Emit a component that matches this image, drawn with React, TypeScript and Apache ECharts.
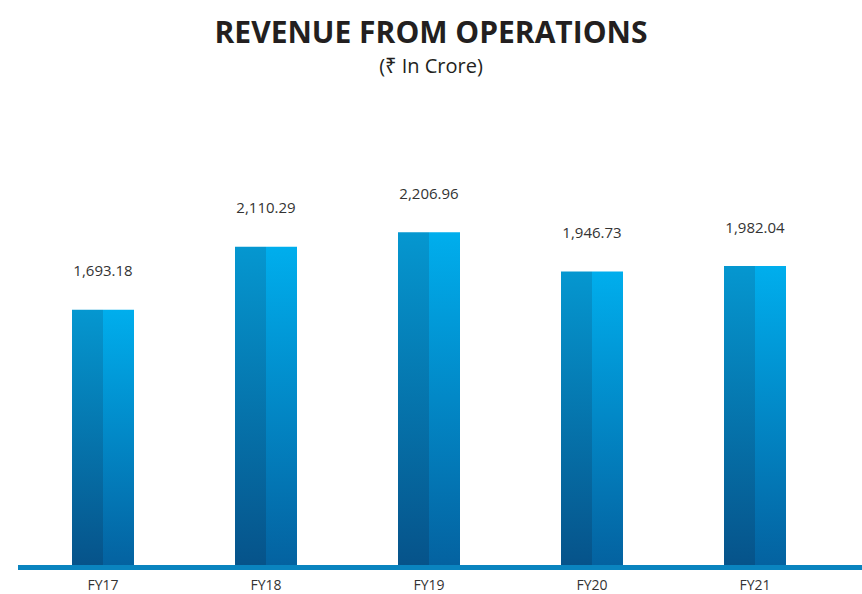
import React, { useEffect, useRef } from "react";
import * as echarts from "echarts";

const categories = ["FY17", "FY18", "FY19", "FY20", "FY21"];
const revenue = [1693.18, 2110.29, 2206.96, 1946.73, 1982.04];

const fmt = (v: number) =>
  v.toLocaleString("en-US", { minimumFractionDigits: 2, maximumFractionDigits: 2 });

const FONT = "'Open Sans', 'Noto Sans', sans-serif";

export default function App() {
  const ref = useRef<HTMLDivElement>(null);
  useEffect(() => {
    if (!ref.current) return;
    const chart = echarts.init(ref.current, null, { renderer: "svg" });
    const grad = (top: string, bottom: string) =>
      new echarts.graphic.LinearGradient(0, 0, 0, 1, [
        { offset: 0, color: top },
        { offset: 1, color: bottom },
      ]);
    chart.setOption({
      animation: false,
      backgroundColor: "#ffffff",
      title: [
        {
          text: "REVENUE FROM OPERATIONS",
          left: "center",
          top: 11,
          textStyle: {
            fontFamily: FONT,
            fontSize: 30,
            fontWeight: "bold",
            color: "#231f20",
          },
        },
        {
          text: "(₹ In Crore)",
          left: "center",
          top: 50,
          textStyle: {
            fontFamily: FONT,
            fontSize: 20,
            fontWeight: "normal",
            color: "#231f20",
          },
        },
      ],
      grid: { left: 21.5, right: 25.5, top: 188, bottom: 29 },
      xAxis: {
        type: "category",
        data: categories,
        axisLine: { show: false },
        axisTick: { show: false },
        axisLabel: {
          margin: 11,
          fontSize: 14,
          lineHeight: 16,
          color: "#333333",
          fontFamily: FONT,
        },
      },
      yAxis: {
        type: "value",
        min: 0,
        max: 2500,
        show: false,
        splitLine: { show: false },
      },
      graphic: [
        {
          type: "rect",
          shape: { x: 18, y: 565, width: 844, height: 5 },
          style: { fill: "#0a84bf" },
          silent: true,
        },
      ],
      series: [
        {
          type: "bar",
          data: revenue,
          barWidth: 31,
          barGap: "0%",
          itemStyle: { color: grad("#0597d0", "#06538a") },
          label: { show: false },
        },
        {
          type: "bar",
          data: revenue,
          barWidth: 31,
          barGap: "0%",
          itemStyle: { color: grad("#00aeed", "#0462a0") },
          label: {
            show: true,
            position: "top",
            distance: 32,
            offset: [-15.5, 0],
            fontSize: 15,
            color: "#333333",
            fontFamily: FONT,
            formatter: (p: any) => fmt(p.value),
          },
        },
      ],
    });
    return () => chart.dispose();
  }, []);
  return <div ref={ref} style={{ width: 862, height: 594, position: "absolute", left: 0, top: 0 }} />;
}
